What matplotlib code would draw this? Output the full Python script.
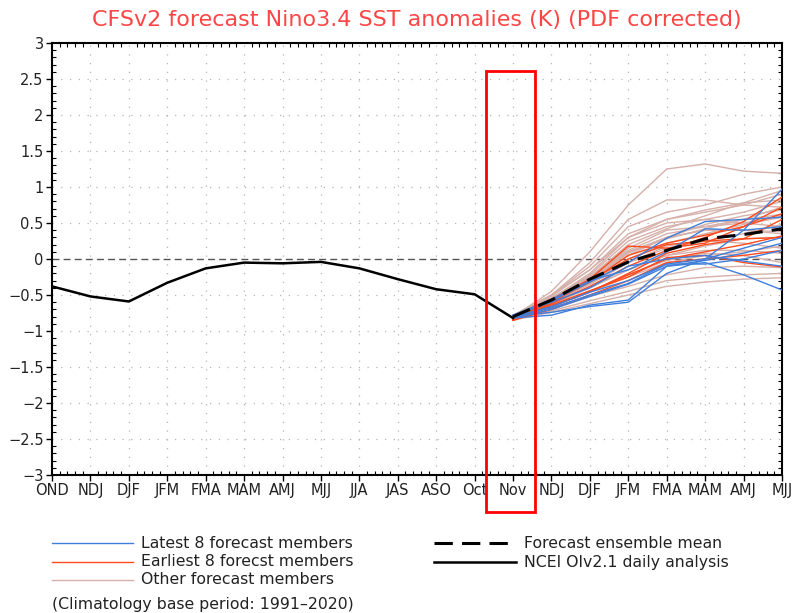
import matplotlib
matplotlib.use("Agg")
import matplotlib.pyplot as plt
from matplotlib.lines import Line2D
from matplotlib.patches import Rectangle
from matplotlib.ticker import MultipleLocator, FuncFormatter
import numpy as np

# Season / month labels along the time axis
tick_labels = ["OND", "NDJ", "DJF", "JFM", "FMA", "MAM", "AMJ", "MJJ", "JJA", "JAS",
               "ASO", "Oct", "Nov", "NDJ", "DJF", "JFM", "FMA", "MAM", "AMJ", "MJJ"]

# Observed Nino3.4 anomalies (OND .. Nov)
observed = [-0.38, -0.52, -0.59, -0.33, -0.13, -0.05, -0.06, -0.04, -0.13, -0.28,
            -0.42, -0.49, -0.82]

# Forecast members, Nov .. MJJ (positions 12..19)
latest_members = [
    [-0.80, -0.74, -0.66, -0.60, -0.20, 0.00, 0.40, 0.97],
    [-0.82, -0.78, -0.64, -0.57, -0.10, -0.05, -0.22, -0.43],
    [-0.80, -0.68, -0.50, -0.34, -0.07, 0.00, 0.15, 0.30],
    [-0.78, -0.60, -0.40, -0.10, 0.00, 0.05, -0.03, -0.10],
    [-0.80, -0.58, -0.32, -0.05, 0.29, 0.52, 0.55, 0.58],
    [-0.80, -0.66, -0.46, -0.30, -0.07, -0.07, 0.00, 0.12],
    [-0.78, -0.56, -0.30, -0.15, 0.10, 0.42, 0.40, 0.45],
    [-0.82, -0.70, -0.52, -0.35, -0.10, -0.02, 0.08, 0.22],
]
earliest_members = [
    [-0.85, -0.62, -0.38, -0.10, 0.12, 0.30, 0.52, 0.86],
    [-0.85, -0.60, -0.32, 0.05, 0.22, 0.33, 0.45, 0.63],
    [-0.83, -0.66, -0.45, -0.22, 0.00, 0.10, 0.20, 0.32],
    [-0.84, -0.58, -0.30, 0.00, 0.20, 0.25, 0.28, 0.30],
    [-0.85, -0.70, -0.50, -0.30, -0.05, 0.00, 0.05, 0.12],
    [-0.83, -0.64, -0.44, -0.25, 0.02, 0.05, -0.05, -0.11],
    [-0.84, -0.56, -0.28, 0.18, 0.15, 0.22, 0.45, 0.72],
    [-0.85, -0.66, -0.46, -0.20, 0.08, 0.20, 0.28, 0.55],
]
other_members = [
    [-0.80, -0.45, 0.10, 0.75, 1.25, 1.32, 1.22, 1.19],
    [-0.80, -0.50, -0.05, 0.55, 0.82, 0.82, 0.75, 0.72],
    [-0.78, -0.50, -0.10, 0.45, 0.65, 0.75, 0.90, 1.00],
    [-0.80, -0.52, -0.15, 0.35, 0.55, 0.65, 0.75, 0.90],
    [-0.82, -0.55, -0.20, 0.30, 0.50, 0.55, 0.50, 0.45],
    [-0.80, -0.55, -0.22, 0.25, 0.45, 0.55, 0.65, 0.80],
    [-0.84, -0.58, -0.28, 0.15, 0.40, 0.45, 0.50, 0.60],
    [-0.80, -0.55, -0.25, 0.20, 0.42, 0.60, 0.78, 0.95],
    [-0.82, -0.58, -0.30, 0.10, 0.30, 0.40, 0.40, 0.35],
    [-0.84, -0.72, -0.58, -0.45, -0.30, -0.25, -0.22, -0.20],
    [-0.83, -0.70, -0.52, -0.38, -0.22, -0.12, -0.10, -0.12],
    [-0.82, -0.62, -0.40, -0.15, 0.05, 0.18, 0.28, 0.30],
    [-0.80, -0.56, -0.28, 0.05, 0.30, 0.48, 0.60, 0.68],
    [-0.81, -0.60, -0.35, -0.05, 0.18, 0.25, 0.22, 0.15],
    [-0.83, -0.66, -0.46, -0.25, -0.05, 0.05, 0.10, 0.18],
    [-0.80, -0.54, -0.24, 0.12, 0.35, 0.45, 0.55, 0.62],
    [-0.82, -0.60, -0.35, -0.05, 0.15, 0.25, 0.35, 0.48],
    [-0.81, -0.57, -0.28, 0.08, 0.30, 0.40, 0.40, 0.38],
    [-0.85, -0.74, -0.62, -0.50, -0.38, -0.32, -0.28, -0.26],
    [-0.79, -0.50, -0.15, 0.30, 0.55, 0.68, 0.78, 0.82],
    [-0.83, -0.63, -0.40, -0.15, 0.05, 0.12, 0.12, 0.08],
    [-0.80, -0.55, -0.26, 0.10, 0.28, 0.42, 0.55, 0.72],
    [-0.82, -0.60, -0.34, 0.00, 0.22, 0.35, 0.48, 0.58],
    [-0.84, -0.66, -0.45, -0.22, -0.02, 0.08, 0.05, -0.05],
]
ensemble_mean = [-0.80, -0.57, -0.28, -0.04, 0.12, 0.28, 0.34, 0.42]

BLUE = "#3f7fdc"
RED = "#ff4a1c"
PINK = "#d6b0aa"
TITLE_RED = "#ff4545"
TEXT = "#222222"

fig = plt.figure(figsize=(7.95, 6.13), dpi=100)
ax = fig.add_axes([52 / 795, 1 - 475 / 613, 730 / 795, 432 / 613])

x_obs = np.arange(len(observed))
x_fc = np.arange(12, 12 + len(ensemble_mean))

# dotted grid and dashed zero line
for xv in range(len(tick_labels)):
    ax.axvline(xv, color="#b5b5b5", lw=0.9, ls=(0, (1, 6)), zorder=0)
for yv in np.arange(-2.5, 3.0, 0.5):
    if abs(yv) > 1e-9:
        ax.axhline(yv, color="#b5b5b5", lw=0.9, ls=(0, (1, 6)), zorder=0)
ax.axhline(0, color="#555555", lw=1.0, ls=(0, (5, 3)), zorder=1)

for m in other_members:
    ax.plot(x_fc, m, color=PINK, lw=1.0, zorder=2)
for m in earliest_members:
    ax.plot(x_fc, m, color=RED, lw=1.0, zorder=3)
for m in latest_members:
    ax.plot(x_fc, m, color=BLUE, lw=1.0, zorder=3)

ax.plot(x_obs, observed, color="black", lw=1.8, zorder=5)
ax.plot(x_fc, ensemble_mean, color="black", lw=2.2, ls=(0, (6, 3)), zorder=6)

ax.set_xlim(0, len(tick_labels) - 1)
ax.set_ylim(-3, 3)
ax.set_xticks(range(len(tick_labels)))
ax.set_xticklabels(tick_labels)
ax.yaxis.set_major_locator(MultipleLocator(0.5))
ax.yaxis.set_major_formatter(FuncFormatter(lambda v, p: f"{v:g}".replace("-", "\u2212")))
ax.xaxis.set_minor_locator(MultipleLocator(0.2))
ax.yaxis.set_minor_locator(MultipleLocator(0.1))
ax.tick_params(axis="both", which="major", direction="out", length=4, width=1,
               labelsize=10.5, colors="black", labelcolor=TEXT, pad=2)
ax.tick_params(axis="both", which="minor", direction="in", length=3, width=0.8,
               top=True, right=True)
for sp in ax.spines.values():
    sp.set_linewidth(1.5)

# highlight box around the initial month
ax.add_patch(Rectangle((11.3, -3.51), 1.27, 6.12, fill=False, edgecolor="#ff0000",
                       lw=2.0, clip_on=False, zorder=8))

fig.text(417 / 795, 1 - 20 / 613, "CFSv2 forecast Nino3.4 SST anomalies (K) (PDF corrected)",
         color=TITLE_RED, fontsize=16, ha="center", va="center")

# legend drawn in figure pixels
def legend_row(x0, x1, y, color, ls, lw, label):
    fy = 1 - y / 613
    fig.add_artist(Line2D([x0 / 795, x1 / 795], [fy, fy], color=color, ls=ls, lw=lw))
    fig.text((x1 + 8) / 795, fy, label, fontsize=11.3, color=TEXT, va="center", ha="left")

legend_row(52, 133, 543, BLUE, "-", 1.0, "Latest 8 forecast members")
legend_row(52, 133, 562, RED, "-", 1.0, "Earliest 8 forecst members")
legend_row(52, 133, 580, PINK, "-", 1.0, "Other forecast members")
legend_row(434, 516, 543, "black", (0, (6, 3)), 2.2, "Forecast ensemble mean")
legend_row(434, 516, 562, "black", "-", 1.8, "NCEI OIv2.1 daily analysis")
fig.text(52 / 795, 1 - 605 / 613, "(Climatology base period: 1991\u20132020)",
         fontsize=11.3, color=TEXT, va="center", ha="left")

fig.savefig("out.png", dpi=100)
